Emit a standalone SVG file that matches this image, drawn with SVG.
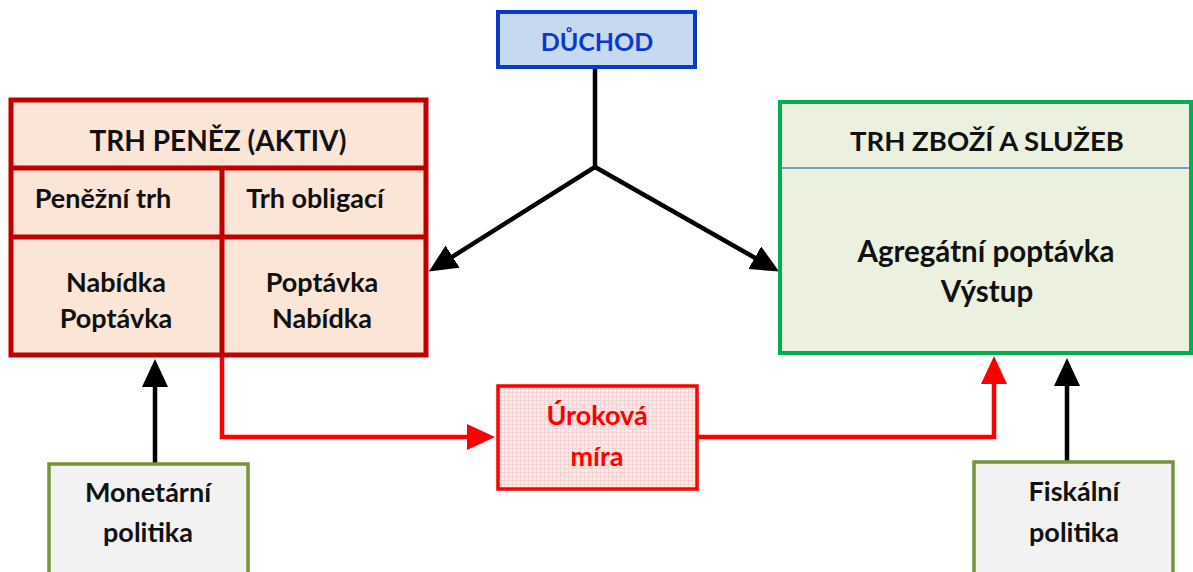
<svg xmlns="http://www.w3.org/2000/svg" width="1193" height="572" viewBox="0 0 1193 572">
<style>
text{font-family:Lato,"Open Sans","Liberation Sans",sans-serif;font-weight:bold;text-anchor:middle;fill:#111}
.t28{font-size:28px}
.t27{font-size:27px}
.blk{stroke:#000;stroke-width:4.5;fill:none}
.red{stroke:#ff0000;stroke-width:4.5;fill:none}
</style>
<defs>
<marker id="ab" markerUnits="userSpaceOnUse" markerWidth="30" markerHeight="28" refX="1" refY="13" orient="auto"><path d="M0,0 L28,13 L0,26 z" fill="#000"/></marker>
<marker id="ar" markerUnits="userSpaceOnUse" markerWidth="30" markerHeight="28" refX="1" refY="13" orient="auto"><path d="M0,0 L28,13 L0,26 z" fill="#ff0000"/></marker>
<pattern id="grid" width="4" height="4" patternUnits="userSpaceOnUse"><rect width="4" height="4" fill="#fce9e9"/><path d="M0,0.5 H4 M0.5,0 V4" stroke="#f6d4d4" stroke-width="1"/></pattern>
</defs>
<rect width="1193" height="572" fill="#fff"/>

<g id="connectors">
<path class="blk" d="M595,68 V167 L451.7,257.1" marker-end="url(#ab)"/>
<path class="blk" d="M595,167 L755.6,258.2" marker-end="url(#ab)"/>
<path class="blk" d="M155,463 V386" marker-end="url(#ab)"/>
<path class="blk" d="M1067,461 V385" marker-end="url(#ab)"/>
<path class="red" d="M222,357 V437 H468" marker-end="url(#ar)"/>
<path class="red" d="M698,437 H994 V383" marker-end="url(#ar)"/>
</g>

<g id="duchod">
<rect x="498" y="12" width="197" height="55" fill="#c6d9f1" stroke="#0a3acc" stroke-width="4"/>
<text x="597" y="51" style="fill:#0a3acc;font-size:25px">DŮCHOD</text>
</g>

<g id="trh-penez">
<rect x="11" y="100" width="415" height="255" fill="#fbe5d6" stroke="#c00000" stroke-width="5"/>
<path d="M11,168 H426 M11,237 H426 M222,168 V355" stroke="#c00000" stroke-width="5" fill="none"/>
<text x="218" y="151" class="t28">TRH PENĚZ (AKTIV)</text>
<text x="103" y="208" class="t27">Peněžní trh</text>
<text x="315" y="208" class="t27">Trh obligací</text>
<text x="116" y="292" class="t27">Nabídka</text>
<text x="116" y="328" class="t27">Poptávka</text>
<text x="322" y="292" class="t27">Poptávka</text>
<text x="322" y="328" class="t27">Nabídka</text>
</g>

<g id="trh-zbozi">
<rect x="780" y="102" width="411" height="251" fill="#ebf1de" stroke="#00b050" stroke-width="4"/>
<path d="M782,168 H1189" stroke="#4f81bd" stroke-width="1.5"/>
<text x="987" y="151" style="font-size:27.5px">TRH ZBOŽÍ A SLUŽEB</text>
<text x="986" y="262" style="font-size:29.5px">Agregátní poptávka</text>
<text x="987" y="302" style="font-size:29.5px">Výstup</text>
</g>

<g id="urokova-mira">
<rect x="498" y="386" width="199" height="103" fill="url(#grid)" stroke="#ff0000" stroke-width="3.5"/>
<text x="597" y="425" class="t27" style="fill:#ff0000">Úroková</text>
<text x="597" y="466" class="t27" style="fill:#ff0000">míra</text>
</g>

<g id="monetarni-politika">
<rect x="49" y="464" width="199" height="120" fill="#f2f2f2" stroke="#77933c" stroke-width="3.5"/>
<text x="148" y="502" class="t27">Monetární</text>
<text x="148" y="542" class="t27">politika</text>
</g>

<g id="fiskalni-politika">
<rect x="974" y="462" width="199" height="120" fill="#f2f2f2" stroke="#77933c" stroke-width="3.5"/>
<text x="1074" y="501" class="t27">Fiskální</text>
<text x="1074" y="542" class="t27">politika</text>
</g>
</svg>
